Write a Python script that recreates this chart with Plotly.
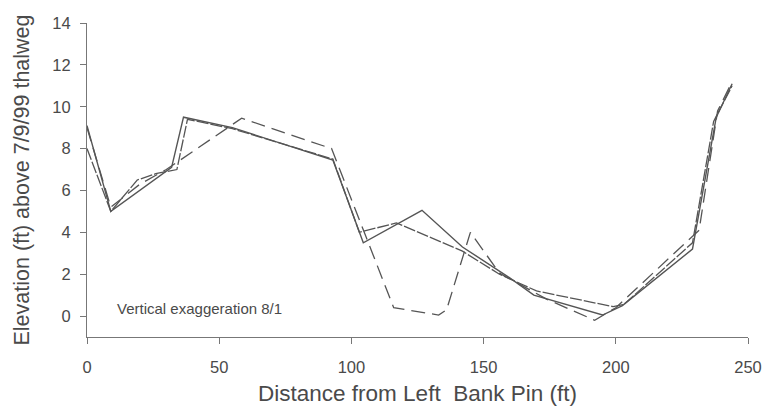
import plotly.graph_objects as go

# three surveyed cross-section profiles (distance ft, elevation ft)
dist_a = [0, 9, 32, 36.5, 55, 93, 104.5, 126.7, 142, 159, 169, 195, 202.5, 229, 238, 244]
elev_a = [9.1, 5.0, 7.1, 9.5, 9.0, 7.45, 3.5, 5.05, 3.3, 1.9, 1.0, 0.05, 0.5, 3.2, 9.5, 11.1]

dist_b = [0, 9, 19, 26, 34, 38, 55, 93, 103, 117, 142, 156, 170, 199, 203, 229, 237, 244]
elev_b = [8.0, 5.0, 6.5, 6.8, 7.0, 9.4, 8.95, 7.5, 4.0, 4.45, 3.1, 2.0, 1.2, 0.45, 0.55, 3.5, 9.3, 11.0]

dist_c = [0, 9, 20, 30, 58.5, 92.5, 116, 133, 136, 145, 156, 174, 192, 200, 231.5, 238.5, 244]
elev_c = [9.0, 5.2, 6.3, 7.0, 9.45, 8.0, 0.4, 0.05, 0.3, 4.0, 2.05, 0.8, -0.2, 0.4, 4.1, 9.8, 11.2]

x_ticks = [0, 50, 100, 150, 200, 250]
y_ticks = [0, 2, 4, 6, 8, 10, 12, 14]

line_col = "#555555"
text_col = "#4a4a4a"

fig = go.Figure()
fig.add_trace(go.Scatter(x=dist_a, y=elev_a, mode="lines", name="Survey 1",
                         line=dict(color=line_col, width=1.4)))
fig.add_trace(go.Scatter(x=dist_b, y=elev_b, mode="lines", name="Survey 2",
                         line=dict(color=line_col, width=1.3, dash="12px,2px")))
fig.add_trace(go.Scatter(x=dist_c, y=elev_c, mode="lines", name="Survey 3",
                         line=dict(color=line_col, width=1.3, dash="14px,7px")))

fig.add_annotation(x=10.5, y=0.38, xref="x", yref="y", xanchor="left", showarrow=False,
                   text="Vertical exaggeration 8/1", font=dict(size=15, color=text_col))

# body margin is removed in the page (post_script), so the figure fills the window
fig.update_layout(
    width=765, height=419,
    margin=dict(l=87, r=17, t=23, b=82),
    paper_bgcolor="white", plot_bgcolor="white",
    showlegend=False,
    font=dict(family="Liberation Sans, Arial, sans-serif", color=text_col, size=16),
)
fig.update_xaxes(
    range=[0, 250], tickvals=x_ticks, showgrid=False, zeroline=False, automargin=False,
    showline=True, linecolor="#777777", linewidth=1, ticklabeloverflow="allow",
    ticks="outside", ticklen=6, tickcolor="#777777", ticklabelstandoff=9,
    tickfont=dict(size=16.5, color=text_col),
    title=dict(text="Distance from Left&nbsp; Bank Pin (ft)", font=dict(size=22.5, color=text_col), standoff=10),
)
fig.update_yaxes(
    range=[-1, 14], tickvals=y_ticks, showgrid=False, zeroline=False, automargin=False,
    showline=True, linecolor="#777777", linewidth=1,
    ticks="outside", ticklen=6, tickcolor="#777777", ticklabelstandoff=6,
    tickfont=dict(size=16.5, color=text_col),
    title=dict(text="Elevation (ft) above 7/9/99 thalweg", font=dict(size=21.5, color=text_col), standoff=16),
)

fig.write_html("out.html", config={"displayModeBar": False},
               post_script="document.body.style.margin='0';")
